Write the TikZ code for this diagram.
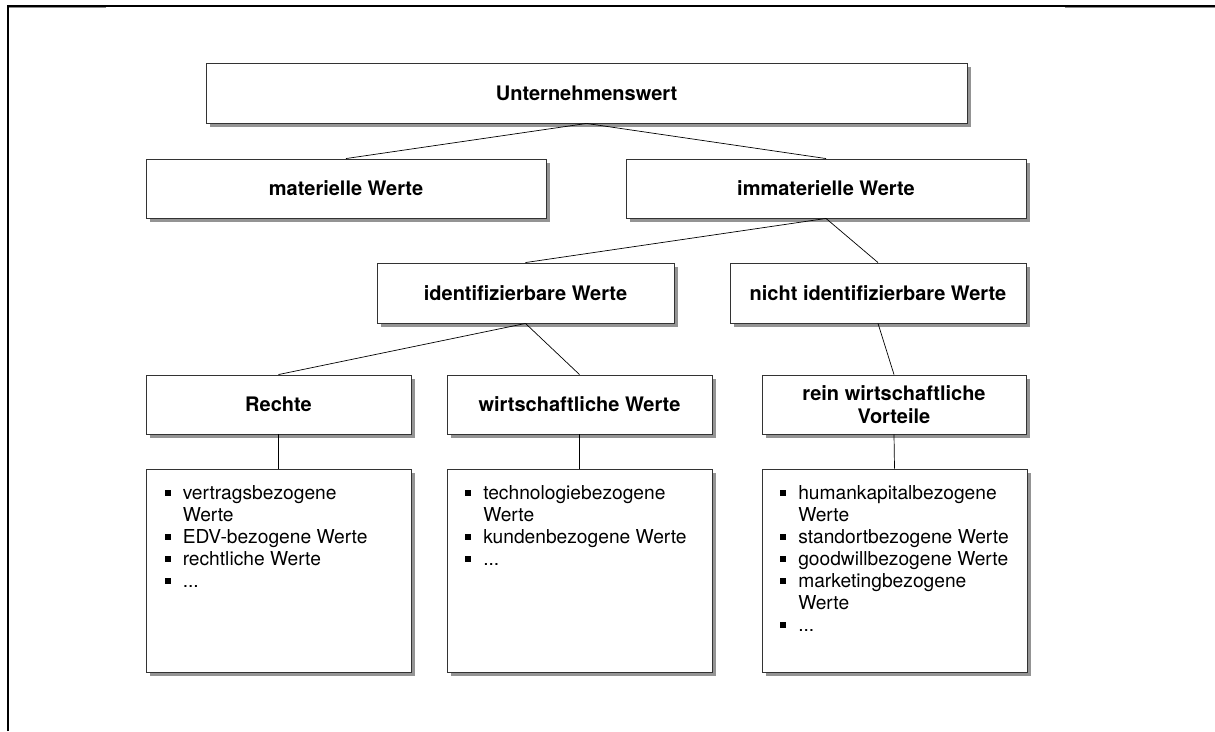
\documentclass[tikz,border=0pt]{standalone}
\usepackage{fontspec}
\setmainfont{TeX Gyre Heros}
\usetikzlibrary{shadows}

\newcommand{\wpunkt}{\rule[3.5pt]{6pt}{6pt}}

\tikzset{
  wertbox/.style={draw=black!80,line width=0.9pt,fill=white,align=center,inner sep=2pt,
    font=\fontsize{20}{23}\selectfont\bfseries,
    drop shadow={shadow xshift=3.5pt,shadow yshift=-3.5pt,fill=black!42,opacity=1}},
  listbox/.style={draw=black!80,line width=0.9pt,fill=white,inner sep=0pt,
    drop shadow={shadow xshift=3.5pt,shadow yshift=-3.5pt,fill=black!42,opacity=1}},
  listtext/.style={inner sep=0pt,anchor=north west,font=\fontsize{19.2}{22}\selectfont},
  ast/.style={line width=0.7pt}
}

\begin{document}
\begin{tikzpicture}[x=1pt,y=-1pt,line cap=butt,line join=miter]
  \useasboundingbox (0,0) rectangle (1215,731);
  % frame
  \draw[black!45,line width=1.5pt] (7,7.2) -- (106,7.2);
  \draw[black!45,line width=1.5pt] (1065,7.2) -- (1215,7.2);
  \draw[line width=1.8pt] (7.7,731) -- (7.7,5.8) -- (1215,5.8);
  % boxes
  \node[wertbox,minimum width=761pt,minimum height=60pt] (uw) at (586.5,93) {Unternehmenswert};
  \node[wertbox,minimum width=400pt,minimum height=59pt] (mw) at (346,188.5) {materielle Werte};
  \node[wertbox,minimum width=400pt,minimum height=59pt] (iw) at (826,188.5) {immaterielle Werte};
  \node[wertbox,minimum width=297pt,minimum height=60pt] (idw) at (525.5,293) {identifizierbare Werte};
  \node[wertbox,minimum width=296pt,minimum height=60pt] (nidw) at (878,293) {nicht identifizierbare Werte};
  \node[wertbox,minimum width=265pt,minimum height=59pt] (re) at (278.5,404.5) {Rechte};
  \node[wertbox,minimum width=265pt,minimum height=59pt] (ww) at (579.5,404.5) {wirtschaftliche Werte};
  \node[wertbox,minimum width=264pt,minimum height=59pt] (rwv) at (894,404.5) {rein wirtschaftliche\\Vorteile};
  \node[listbox,minimum width=265pt,minimum height=203pt] (reliste) at (278.5,570.5) {};
  \node[listbox,minimum width=265pt,minimum height=203pt] (wwliste) at (579.5,570.5) {};
  \node[listbox,minimum width=265pt,minimum height=203pt] (rwvliste) at (894.5,570.5) {};
  % lists
  \node[listtext] (retext) at ([xshift=19pt,yshift=-15pt]reliste.north west) {%
    \begin{tabular}{@{}l@{\hspace{12pt}}l@{}}
      \wpunkt & vertragsbezogene\\
              & Werte\\
      \wpunkt & EDV-bezogene Werte\\
      \wpunkt & rechtliche Werte\\
      \wpunkt & ...
    \end{tabular}};
  \node[listtext] (wwtext) at ([xshift=18.5pt,yshift=-15pt]wwliste.north west) {%
    \begin{tabular}{@{}l@{\hspace{12pt}}l@{}}
      \wpunkt & technologiebezogene\\
              & Werte\\
      \wpunkt & kundenbezogene Werte\\
      \wpunkt & ...
    \end{tabular}};
  \node[listtext] (rwvtext) at ([xshift=18.5pt,yshift=-15pt]rwvliste.north west) {%
    \begin{tabular}{@{}l@{\hspace{12pt}}l@{}}
      \wpunkt & humankapitalbezogene\\
              & Werte\\
      \wpunkt & standortbezogene Werte\\
      \wpunkt & goodwillbezogene Werte\\
      \wpunkt & marketingbezogene\\
              & Werte\\
      \wpunkt & ...
    \end{tabular}};
  % connectors
  \draw[ast] (uw.south) -- (mw.north);
  \draw[ast] (uw.south) -- (iw.north);
  \draw[ast] (iw.south) -- (idw.north);
  \draw[ast] (iw.south) -- (nidw.north);
  \draw[ast] (idw.south) -- (re.north);
  \draw[ast] (idw.south) -- (ww.north);
  \draw[ast] (nidw.south) -- (rwv.north);
  \draw[ast] (re.south) -- (reliste.north);
  \draw[ast] (ww.south) -- (wwliste.north);
  \draw[ast] (rwv.south) -- (rwvliste.north);
\end{tikzpicture}
\end{document}
